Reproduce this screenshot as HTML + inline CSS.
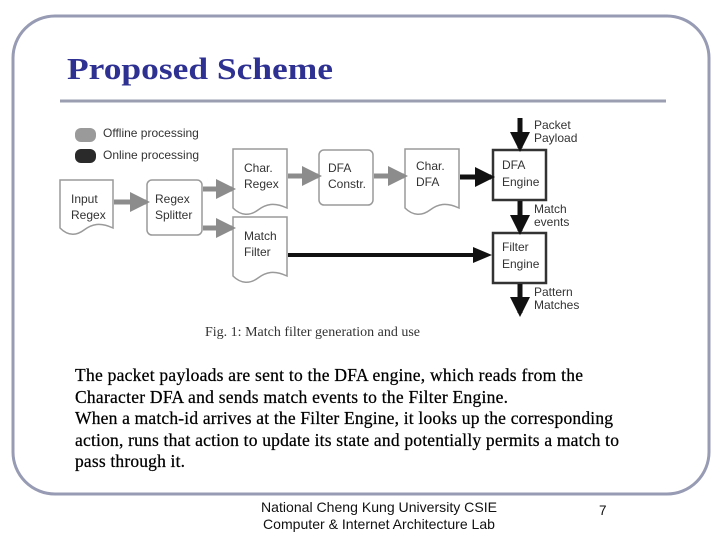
<!DOCTYPE html>
<html><head><meta charset="utf-8"><style>
html,body{margin:0;padding:0;background:#fff;}
svg{display:block;}
.d{font-family:"Liberation Sans",sans-serif;font-size:12px;fill:#333;}
.b{font-family:"Liberation Serif",serif;font-size:17.5px;fill:#000;stroke:#000;stroke-width:0.25;}
</style></head><body>
<svg width="720" height="540" viewBox="0 0 720 540" xmlns="http://www.w3.org/2000/svg">
<defs>
<marker id="ga" markerWidth="4" markerHeight="4" refX="3.2" refY="2" orient="auto" markerUnits="strokeWidth"><path d="M0,0 L4,2 L0,4 z" fill="#8c8c8c"/></marker>
<marker id="ka" markerWidth="4" markerHeight="4" refX="3.2" refY="2" orient="auto" markerUnits="strokeWidth"><path d="M0,0 L4,2 L0,4 z" fill="#111"/></marker>
</defs>
<rect x="13" y="16" width="696" height="478" rx="42" fill="none" stroke="#979bb3" stroke-width="3"/>
<text x="67" y="79" font-family="Liberation Serif,serif" font-weight="bold" font-size="31" fill="#2f3192" textLength="266" lengthAdjust="spacingAndGlyphs">Proposed Scheme</text>
<line x1="60" y1="101" x2="666" y2="101" stroke="#9a9eb0" stroke-width="3"/>

<rect x="75" y="128" width="21" height="14" rx="6" fill="#9a9a9a"/>
<text class="d" x="103" y="137">Offline processing</text>
<rect x="75" y="149" width="21" height="14" rx="6" fill="#2a2a2a"/>
<text class="d" x="103" y="159">Online processing</text>

<g fill="#fff" stroke="#9a9a9a" stroke-width="1.5">
<path d="M60,180 H113 V228 C100,222 92,224 84,230 C76,236 68,236 60,228 Z"/>
<path d="M233,149 H287 V208 C274,202 266,204 258,210 C250,216 241,216 233,208 Z"/>
<path d="M233,217 H287 V276 C274,270 266,272 258,278 C250,284 241,284 233,276 Z"/>
<path d="M405,149 H459 V208 C446,202 438,204 430,210 C422,216 413,216 405,208 Z"/>
<rect x="147" y="180" width="55" height="55" rx="5"/>
<rect x="319" y="150" width="54" height="55" rx="5"/>
</g>
<g fill="#fff" stroke="#333" stroke-width="2.5">
<rect x="493" y="150" width="53" height="50"/>
<rect x="493" y="233" width="53" height="50"/>
</g>
<text class="d" x="71" y="203">Input</text><text class="d" x="71" y="219">Regex</text>
<text class="d" x="155" y="203">Regex</text><text class="d" x="155" y="219">Splitter</text>
<text class="d" x="244" y="172">Char.</text><text class="d" x="244" y="188">Regex</text>
<text class="d" x="244" y="240">Match</text><text class="d" x="244" y="256">Filter</text>
<text class="d" x="328" y="172">DFA</text><text class="d" x="328" y="188">Constr.</text>
<text class="d" x="416" y="170">Char.</text><text class="d" x="416" y="186">DFA</text>
<text class="d" x="502" y="169">DFA</text><text class="d" x="502" y="186">Engine</text>
<text class="d" x="502" y="251">Filter</text><text class="d" x="502" y="268">Engine</text>
<text class="d" x="534" y="129">Packet</text><text class="d" x="534" y="142">Payload</text>
<text class="d" x="534" y="213">Match</text><text class="d" x="534" y="226">events</text>
<text class="d" x="534" y="296">Pattern</text><text class="d" x="534" y="309">Matches</text>

<g stroke="#8c8c8c" stroke-width="5" fill="none" marker-end="url(#ga)">
<line x1="114" y1="202" x2="146" y2="202"/>
<line x1="203" y1="189" x2="232" y2="189"/>
<line x1="203" y1="228" x2="232" y2="228"/>
<line x1="288" y1="176" x2="318" y2="176"/>
<line x1="374" y1="176" x2="404" y2="176"/>
</g>
<g stroke="#111" stroke-width="5" fill="none" marker-end="url(#ka)">
<line x1="460" y1="177" x2="491" y2="177"/>
<line x1="520" y1="118" x2="520" y2="148"/>
<line x1="520" y1="201" x2="520" y2="231"/>
<line x1="520" y1="284" x2="520" y2="313"/>
</g>
<line x1="288" y1="255" x2="475" y2="255" stroke="#111" stroke-width="4"/>
<path d="M473,247 L492,255 L473,263 Z" fill="#111"/>

<text x="205" y="336" font-family="Liberation Serif,serif" font-size="14" fill="#333">Fig. 1: Match filter generation and use</text>

<text class="b" x="75" y="381" textLength="508">The packet payloads are sent to the DFA engine, which reads from the</text>
<text class="b" x="75" y="403" textLength="433">Character DFA and sends match events to the Filter Engine.</text>
<text class="b" x="75" y="424" textLength="538">When a match-id arrives at the Filter Engine, it looks up the corresponding</text>
<text class="b" x="75" y="446" textLength="544">action, runs that action to update its state and potentially permits a match to</text>
<text class="b" x="75" y="467" textLength="110">pass through it.</text>

<text x="379" y="512" text-anchor="middle" font-family="Liberation Sans,sans-serif" font-size="14" fill="#111" textLength="236" lengthAdjust="spacingAndGlyphs">National Cheng Kung University CSIE</text>
<text x="379" y="529" text-anchor="middle" font-family="Liberation Sans,sans-serif" font-size="14" fill="#111" textLength="232" lengthAdjust="spacingAndGlyphs">Computer &amp; Internet Architecture Lab</text>
<text x="599" y="515" font-family="Liberation Sans,sans-serif" font-size="13.5" fill="#111">7</text>
</svg>
</body></html>
